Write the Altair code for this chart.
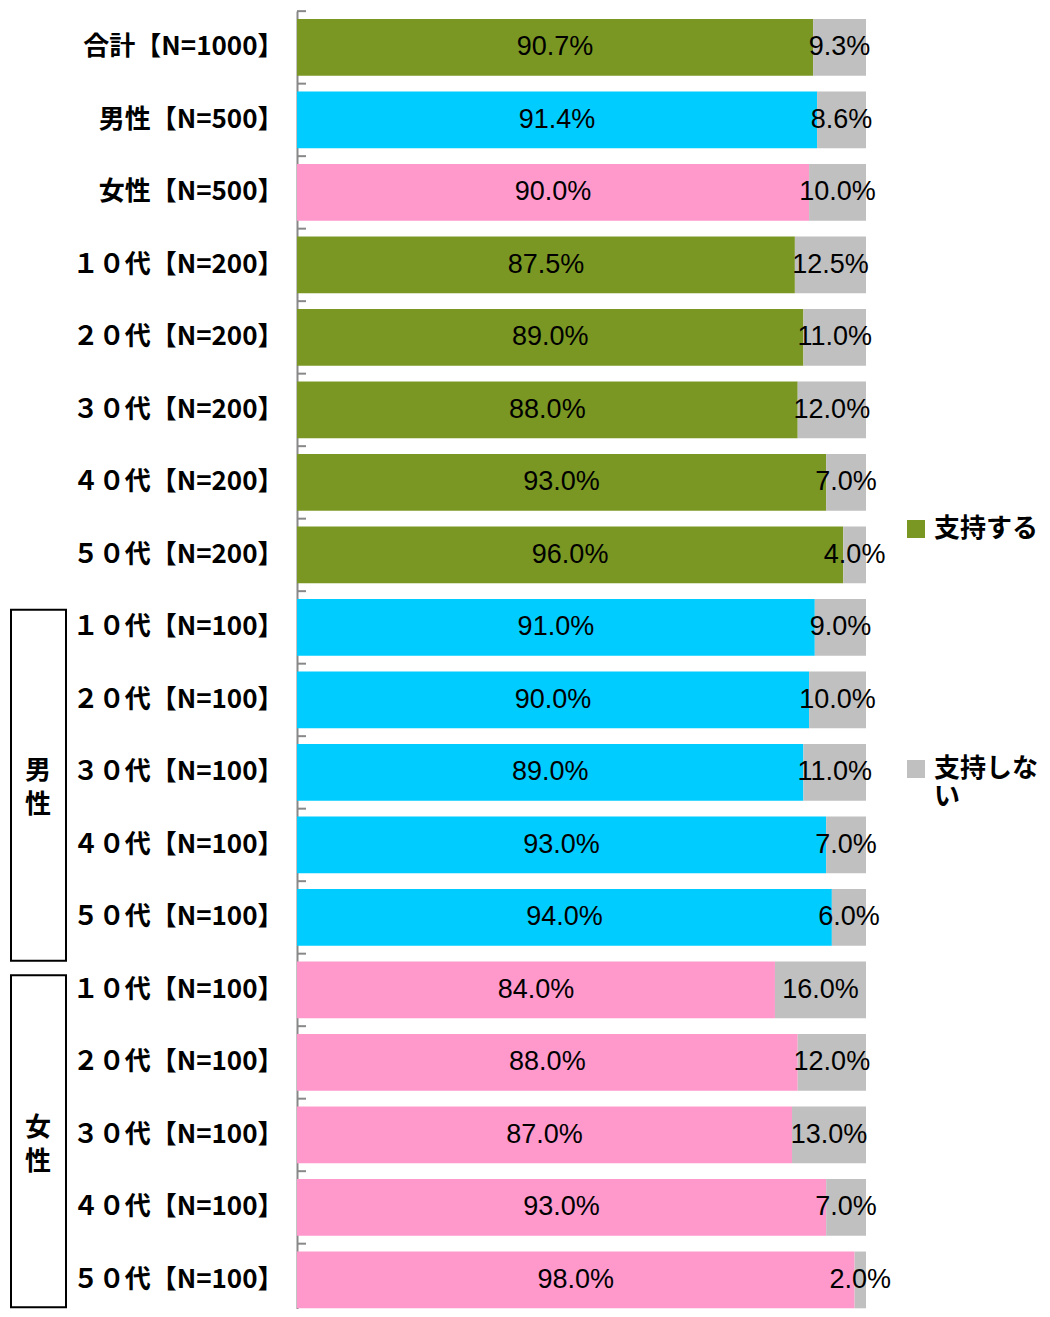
import json
import altair as alt
import pandas as pd

ids = ["all", "male", "female", "a10", "a20", "a30", "a40", "a50",
       "m10", "m20", "m30", "m40", "m50", "f10", "f20", "f30", "f40", "f50"]
labels = ["合計【N=1000】", "男性【N=500】", "女性【N=500】",
          "１０代【N=200】", "２０代【N=200】", "３０代【N=200】", "４０代【N=200】", "５０代【N=200】",
          "１０代【N=100】", "２０代【N=100】", "３０代【N=100】", "４０代【N=100】", "５０代【N=100】",
          "１０代【N=100】", "２０代【N=100】", "３０代【N=100】", "４０代【N=100】", "５０代【N=100】"]
groups = ["支持する", "男性", "女性", "支持する", "支持する", "支持する", "支持する", "支持する",
          "男性", "男性", "男性", "男性", "男性", "女性", "女性", "女性", "女性", "女性"]
support = [90.7, 91.4, 90.0, 87.5, 89.0, 88.0, 93.0, 96.0,
           91.0, 90.0, 89.0, 93.0, 94.0, 84.0, 88.0, 87.0, 93.0, 98.0]
oppose = [9.3, 8.6, 10.0, 12.5, 11.0, 12.0, 7.0, 4.0,
          9.0, 10.0, 11.0, 7.0, 6.0, 16.0, 12.0, 13.0, 7.0, 2.0]

box_names = ["男\n性", "女\n性"]
box_first = ["m10", "f10"]
box_last = ["m50", "f50"]
box_mid = ["m30", "f30"]

color_domain = ["支持する", "支持しない", "男性", "女性"]
color_range = ["#7A9723", "#C0C0C0", "#00CCFF", "#FF99CC"]

rows = []
for i, cid in enumerate(ids):
    rows.append({"id": cid, "key": groups[i], "start": 0, "end": support[i],
                 "mid": support[i] / 2, "label": f"{support[i]:.1f}%", "ord": 0})
    rows.append({"id": cid, "key": "支持しない", "start": support[i], "end": support[i] + oppose[i],
                 "mid": support[i] + oppose[i] / 2, "label": f"{oppose[i]:.1f}%", "ord": 1})
df = pd.DataFrame(rows)
df_ids = pd.DataFrame({"id": ids})
df_box = pd.DataFrame({"name": box_names, "first": box_first, "last": box_last, "mid": box_mid})

label_map = json.dumps(dict(zip(ids, labels)), ensure_ascii=False)
yscale = alt.Scale(domain=ids, paddingInner=0.217, paddingOuter=0.06, align=0.92)
xscale = alt.Scale(domain=[0, 100])
yaxis = alt.Axis(
    title=None, labelExpr=f"{label_map}[datum.value]",
    labelFont="Noto Sans CJK JP", labelFontSize=26, labelFontWeight="bold",
    labelColor="black", labelPadding=14, ticks=False, domainColor="#888888",
    domainWidth=2, labelLimit=0)

bars = alt.Chart(df).mark_bar().encode(
    y=alt.Y("id:N", scale=yscale, axis=yaxis),
    x=alt.X("start:Q", scale=xscale, axis=None),
    x2="end:Q",
    color=alt.Color("key:N", scale=alt.Scale(domain=color_domain, range=color_range),
                    legend=alt.Legend(
                        values=["支持する", "支持しない"], orient="none", legendX=606, legendY=505,
                        title=None, symbolType="square", symbolSize=324, symbolStrokeWidth=0,
                        labelFont="Noto Sans CJK JP", labelFontSize=26, labelFontWeight="bold",
                        labelColor="black", labelOffset=5, rowPadding=214, labelLimit=0,
                        labelExpr="datum.label == '支持しない' ? ['支持しな', 'い'] : datum.label")),
    order="ord:Q",
)

texts = alt.Chart(df).mark_text(font="Liberation Sans", fontSize=27, color="black",
                                baseline="middle", align="center").encode(
    y=alt.Y("id:N", scale=yscale, axis=yaxis),
    x=alt.X("mid:Q", scale=xscale, axis=None),
    text="label:N",
)

ticks = alt.Chart(df_ids).mark_rule(color="#888888", strokeWidth=2, yOffset=-7.85).encode(
    y=alt.Y("id:N", scale=yscale, axis=yaxis, bandPosition=0),
    x=alt.value(0), x2=alt.value(9),
)

# per-box styling (positions come from the y scale)
box_style = {"男\n性": {"top": 0.19, "y2off": 15, "dy": -1},
             "女\n性": {"top": 0.24, "y2off": -1, "dy": -7}}

box_layers = []
for name in box_names:
    st = box_style[name]
    src = alt.Chart(df_box).transform_filter(alt.datum.name == name)
    box_layers.append(src.mark_rect(fill="white", stroke="black", strokeWidth=2,
                                    y2Offset=st["y2off"]).encode(
        y=alt.Y("first:N", scale=yscale, axis=yaxis, bandPosition=st["top"]),
        y2=alt.Y2("last:N", bandPosition=1.0),
        x=alt.value(-286), x2=alt.value(-231),
    ))
    box_layers.append(src.mark_text(font="Noto Sans CJK JP", fontSize=26, fontWeight="bold",
                                    color="black", lineBreak="\n", lineHeight=34,
                                    baseline="middle", align="center", dy=st["dy"]).encode(
        y=alt.Y("mid:N", scale=yscale, axis=yaxis),
        x=alt.value(-259),
        text="name:N",
    ))

chart = alt.layer(bars, texts, ticks, *box_layers).properties(
    width=569, height=1298,
    autosize=alt.AutoSizeParams(type="none"),
    padding={"left": 289, "top": 3, "right": 176, "bottom": 0},
).configure_view(stroke=None)

chart.save("out.html", embed_options={"renderer": "svg", "actions": False})
